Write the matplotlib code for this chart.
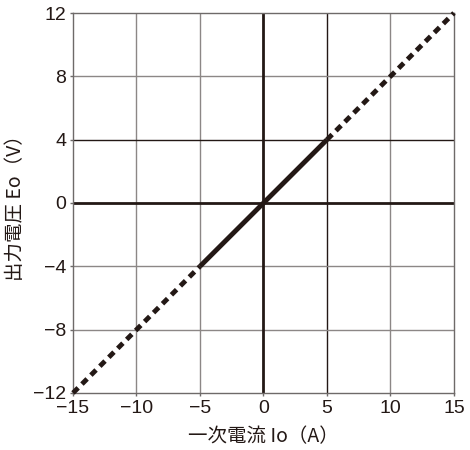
import matplotlib
matplotlib.use("Agg")
import matplotlib.pyplot as plt

plt.rcParams['font.family'] = ['Noto Sans CJK JP', 'DejaVu Sans']

# data
current_solid = [-5, 0, 5]
voltage_solid = [-4, 0, 4]
current_neg = [-15, -5]
voltage_neg = [-12, -4]
current_pos = [5, 15]
voltage_pos = [4, 12]

x_ticks = [-15, -10, -5, 0, 5, 10, 15]
y_ticks = [-12, -8, -4, 0, 4, 8, 12]

BLACK = "#231815"
GRAY = "#8c8786"

fig = plt.figure(figsize=(4.7, 4.5), dpi=100)
ax = fig.add_axes([0.1553, 0.1267, 0.8106, 0.8444])

ax.set_xlim(-15, 15)
ax.set_ylim(-12, 12)

# grid lines (some darker than others, as in the original)
for xv in x_ticks[1:-1]:
    if xv == 0:
        ax.axvline(xv, color=BLACK, lw=2.0, zorder=2)
    elif xv == 5:
        ax.axvline(xv, color=BLACK, lw=1.0, zorder=1)
    else:
        ax.axvline(xv, color=GRAY, lw=1.0, zorder=1)
for yv in y_ticks[1:-1]:
    if yv == 0:
        ax.axhline(yv, color=BLACK, lw=2.0, zorder=2)
    elif yv == 4:
        ax.axhline(yv, color=BLACK, lw=1.0, zorder=1)
    else:
        ax.axhline(yv, color=GRAY, lw=1.0, zorder=1)

ax.plot(current_solid, voltage_solid, color=BLACK, lw=3.5,
        solid_capstyle="butt", zorder=3)
for xs, ys in [(current_neg, voltage_neg), (current_pos, voltage_pos)]:
    ax.plot(xs, ys, color=BLACK, lw=3.5, dashes=(1.5, 1.1),
            dash_capstyle="butt", zorder=3, clip_on=False)

for s in ax.spines.values():
    s.set_color("#6e6a69")
    s.set_linewidth(1.0)

ax.set_xticks(x_ticks)
ax.set_yticks(y_ticks)
ax.set_xticklabels([str(v).replace("-", "\u2212") for v in x_ticks])
ax.set_yticklabels([str(v).replace("-", "\u2212") for v in y_ticks])
ax.tick_params(length=2, width=1, color="#6e6a69", labelsize=14,
               labelcolor=BLACK, pad=3)
for lab in ax.get_xticklabels() + ax.get_yticklabels():
    lab.set_family(['Liberation Sans', 'DejaVu Sans'])

ax.set_xlabel("一次電流 Io（A）", fontsize=14, color=BLACK, va="center")
ax.set_ylabel("出力電圧 Eo（V）", fontsize=14, color=BLACK, va="center")
ax.xaxis.set_label_coords(0.5, -0.116)
ax.yaxis.set_label_coords(-0.152, 0.5)

fig.savefig("out.png", dpi=100)
